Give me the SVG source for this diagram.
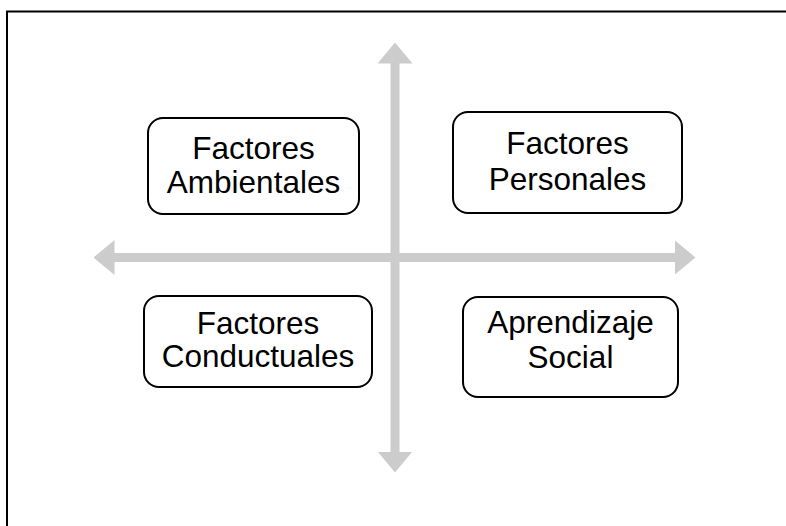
<svg xmlns="http://www.w3.org/2000/svg" width="786" height="526" viewBox="0 0 786 526">
  <style>
    .box { fill: #ffffff; stroke: #000000; stroke-width: 2; }
    .lbl { font-family: "Liberation Sans", Arial, sans-serif; font-size: 31.5px; fill: #000000; text-anchor: middle; }
    .axis { stroke: #cccccc; stroke-width: 9; fill: none; marker-start: url(#head); marker-end: url(#head); }
  </style>
  <defs>
    <marker id="head" markerUnits="userSpaceOnUse" viewBox="0 0 21 35" markerWidth="21" markerHeight="35" refX="0.5" refY="17.5" orient="auto-start-reverse">
      <path d="M0,0 L21,17.5 L0,35 Z" fill="#cccccc"/>
    </marker>
  </defs>
  <rect x="0" y="0" width="786" height="526" fill="#ffffff"/>
  <rect x="7" y="11.5" width="820" height="600" fill="none" stroke="#000000" stroke-width="2"/>
  <g id="connectors">
    <line class="axis" x1="395" y1="63" x2="395" y2="452"/>
    <line class="axis" x1="114" y1="257.5" x2="675" y2="257.5"/>
  </g>
  <g id="factores-ambientales">
    <rect class="box" x="148" y="118" width="211" height="96" rx="15"/>
    <text class="lbl" x="253.5" y="159">Factores</text>
    <text class="lbl" x="253.5" y="193">Ambientales</text>
  </g>
  <g id="factores-personales">
    <rect class="box" x="453" y="112" width="229" height="101" rx="15"/>
    <text class="lbl" x="567.5" y="154">Factores</text>
    <text class="lbl" x="567.5" y="190">Personales</text>
  </g>
  <g id="factores-conductuales">
    <rect class="box" x="144" y="296" width="228" height="91" rx="15"/>
    <text class="lbl" x="258" y="334">Factores</text>
    <text class="lbl" x="258" y="367">Conductuales</text>
  </g>
  <g id="aprendizaje-social">
    <rect class="box" x="463" y="297" width="215" height="100" rx="15"/>
    <text class="lbl" x="570.5" y="333">Aprendizaje</text>
    <text class="lbl" x="570.5" y="368">Social</text>
  </g>
</svg>
